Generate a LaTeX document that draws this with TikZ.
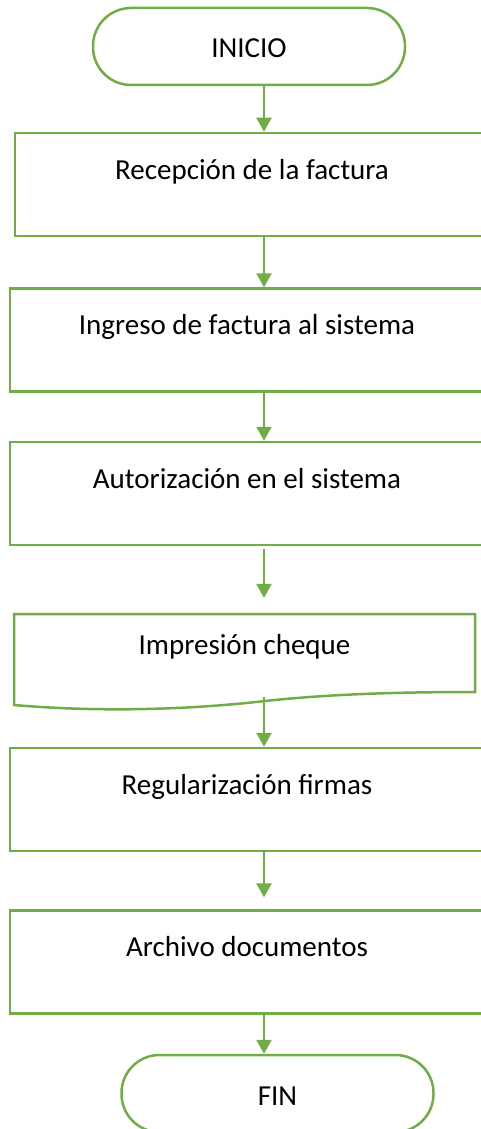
\documentclass[tikz,border=0pt]{standalone}
\usepackage{fontspec}
\setmainfont{Carlito}
\usetikzlibrary{arrows.meta}
\definecolor{verde}{HTML}{70AD47}
\begin{document}
\begin{tikzpicture}[x=1pt,y=-1pt,
    linea/.style={draw=verde,line width=2.5pt},
    texto/.style={inner sep=0pt,font=\fontsize{29}{35}\selectfont},
    proceso/.style={linea,texto,rectangle,minimum width=474pt,text height=46pt,text depth=57pt},
    terminal/.style={linea,texto,rectangle,rounded corners=38pt,minimum width=312pt,text height=50pt,text depth=27pt},
    flecha/.style={draw=verde,line width=2.5pt,-{Triangle[width=15pt,length=14pt]}}]
\useasboundingbox (0,0) rectangle (480,1129);
\coordinate (eje) at (264,0);

\node[terminal] (inicio) at (249,46.5) {INICIO};
\node[proceso] (recep) at (252,184.5) {Recepción de la factura};
\node[proceso] (ingreso) at (247,340) {Ingreso de factura al sistema};
\node[proceso] (autor) at (247,493.5) {Autorización en el sistema};
\node[texto,minimum width=461pt,text height=40pt,text depth=46pt] (cheque) at (244.5,657) {Impresión cheque};
\draw[linea] (14,614) -- (475,614) -- (475,692) .. controls (400,692) and (330,694) .. (265,701)
    .. controls (230,705) and (130,715) .. (14,705) -- cycle;
\node[proceso] (regul) at (247,799.5) {Regularización firmas};
\node[proceso] (archivo) at (247,962) {Archivo documentos};
\node[terminal] (fin) at (277.5,1093.5) {FIN};

\draw[flecha] (inicio.south -| eje) -- (recep.north -| eje);
\draw[flecha] (recep.south -| eje) -- (ingreso.north -| eje);
\draw[flecha] (ingreso.south -| eje) -- (autor.north -| eje);
\draw[flecha,shorten <=3pt,shorten >=16pt] (autor.south -| eje) -- (cheque.north -| eje);
\draw[flecha,shorten <=-3pt] (cheque.south -| eje) -- (regul.north -| eje);
\draw[flecha,shorten >=12pt] (regul.south -| eje) -- (archivo.north -| eje);
\draw[flecha] (archivo.south -| eje) -- (fin.north -| eje);
\end{tikzpicture}
\end{document}
